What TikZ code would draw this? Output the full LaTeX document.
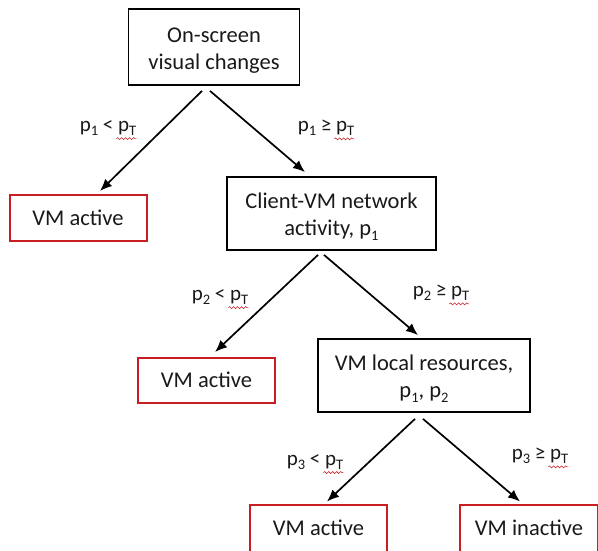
\documentclass[tikz,border=0pt]{standalone}
\usepackage{fontspec}
\setmainfont{Carlito}
\usetikzlibrary{arrows.meta,decorations.pathmorphing}
\definecolor{boxred}{RGB}{200,30,36}
\definecolor{txt}{RGB}{25,25,25}
\newcommand\sbs[1]{\raisebox{-0.18em}{\fontsize{14.5}{14.5}\selectfont #1}}
\newcommand\topstrut{\rule{0pt}{22pt}}
\begin{document}
\begin{tikzpicture}[x=1pt,y=-1pt,
  every node/.style={text=txt,font=\fontsize{22.5}{27}\selectfont},
  decbox/.style={draw=black,line width=1.8pt,align=center,inner sep=0pt},
  endbox/.style={draw=boxred,line width=2pt,align=center,inner sep=0pt,minimum width=137pt,minimum height=46pt},
  lab/.style={inner sep=0pt,font=\fontsize{21}{24}\selectfont},
  arr/.style={line width=1.7pt,-{Latex[length=12pt,width=10pt]}},
  squig/.style={draw=boxred,line width=0.6pt,decorate,decoration={snake,segment length=4pt,amplitude=1pt}}]
\useasboundingbox (0,0) rectangle (598,551);
\node[decbox,minimum width=171pt,minimum height=76pt] (b1) at (214,47) {\topstrut On-screen\\visual changes};
\node[decbox,minimum width=209pt,minimum height=73pt] (b2) at (331.5,213.5) {\topstrut Client-VM network\\activity, p\sbs{1}};
\node[decbox,minimum width=212pt,minimum height=73pt] (b3) at (424,375.5) {\topstrut VM local resources,\\p\sbs{1}, p\sbs{2}};
\node[endbox] (r1) at (78,218) {VM active};
\node[endbox,minimum height=45pt] (r2) at (206.5,380) {VM active};
\node[endbox,minimum height=47pt] (r3) at (318.5,528) {VM active};
\node[endbox,minimum height=47pt,minimum width=138pt] (r4) at (529,528) {VM inactive};
\draw[arr] ([xshift=-12pt,yshift=-5pt]b1.south) -- ([xshift=22pt,yshift=3pt]r1.north);
\draw[arr] ([xshift=-4pt,yshift=-5pt]b1.south) -- ([xshift=-26.5pt,yshift=4pt]b2.north);
\draw[arr] ([xshift=-13.5pt,yshift=-4pt]b2.south) -- ([xshift=8.5pt,yshift=4.5pt]r2.north);
\draw[arr] ([xshift=-7.5pt,yshift=-4pt]b2.south) -- ([xshift=-6pt,yshift=3pt]b3.north);
\draw[arr] ([xshift=-9pt,yshift=-6pt]b3.south) -- ([xshift=8.5pt,yshift=2pt]r3.north);
\draw[arr] ([xshift=-1pt,yshift=-6pt]b3.south) -- ([xshift=-9pt,yshift=2pt]r4.north);
\node[lab] (l1) at (108,128) {p\sbs{1} < p\sbs{T}};
\node[lab] (l2) at (326,128) {p\sbs{1} ≥ p\sbs{T}};
\node[lab] (l3) at (220,297) {p\sbs{2} < p\sbs{T}};
\node[lab] (l4) at (441,293) {p\sbs{2} ≥ p\sbs{T}};
\node[lab] (l5) at (315,462) {p\sbs{3} < p\sbs{T}};
\node[lab] (l6) at (540,456) {p\sbs{3} ≥ p\sbs{T}};
\foreach \l in {l1,l2,l3,l4,l5,l6}{
  \path[squig] ([xshift=-20pt,yshift=-7pt]\l.base east) -- ([xshift=0pt,yshift=-7pt]\l.base east);
}
\end{tikzpicture}
\end{document}
